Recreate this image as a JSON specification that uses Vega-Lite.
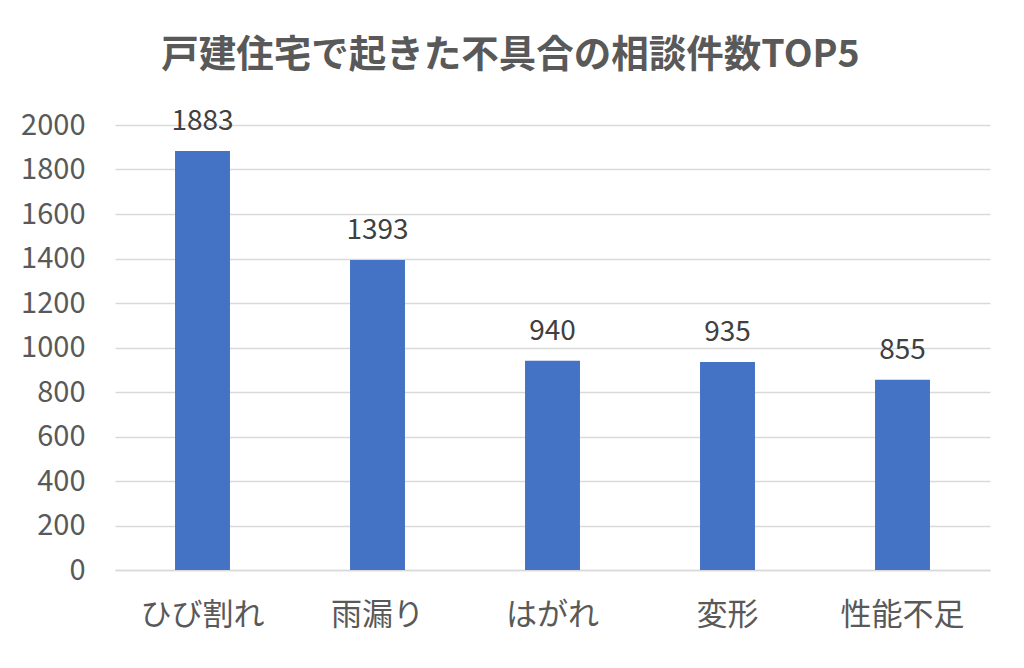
{
  "$schema": "https://vega.github.io/schema/vega-lite/v6.json",
  "autosize": "none",
  "width": 875,
  "height": 445,
  "padding": {"left": 115, "top": 125, "right": 34, "bottom": 98},
  "background": "white",
  "title": {
    "text": "戸建住宅で起きた不具合の相談件数TOP5",
    "font": "Noto Sans CJK JP",
    "fontSize": 37.5,
    "fontWeight": "bold",
    "color": "#595959",
    "anchor": "middle",
    "dx": -42,
    "offset": 34
  },
  "data": {
    "values": [
      {"category": "ひび割れ", "count": 1883},
      {"category": "雨漏り", "count": 1393},
      {"category": "はがれ", "count": 940},
      {"category": "変形", "count": 935},
      {"category": "性能不足", "count": 855}
    ]
  },
  "config": {
    "view": {"stroke": null},
    "font": "Noto Sans CJK JP"
  },
  "encoding": {
    "x": {
      "field": "category",
      "type": "nominal",
      "sort": null,
      "scale": {"paddingInner": 0.686, "paddingOuter": 0.343},
      "axis": {
        "title": null,
        "labelAngle": 0,
        "labelFontSize": 31,
        "labelColor": "#595959",
        "labelPadding": 30,
        "ticks": false,
        "domainColor": "#d9d9d9",
        "domainWidth": 1.5,
        "labelFont": "Noto Sans CJK JP"
      }
    },
    "y": {
      "field": "count",
      "type": "quantitative",
      "scale": {"domain": [0, 2000]},
      "axis": {
        "title": null,
        "format": "d",
        "values": [0, 200, 400, 600, 800, 1000, 1200, 1400, 1600, 1800, 2000],
        "labelFontSize": 29,
        "labelColor": "#595959",
        "labelPadding": 30,
        "ticks": false,
        "domain": false,
        "gridColor": "#d9d9d9",
        "gridWidth": 1.5,
        "labelFont": "Noto Sans CJK JP"
      }
    }
  },
  "layer": [
    {"mark": {"type": "bar", "color": "#4472C4"}},
    {
      "mark": {
        "type": "text",
        "baseline": "bottom",
        "dy": -15,
        "fontSize": 28,
        "color": "#404040",
        "font": "Noto Sans CJK JP"
      },
      "encoding": {"text": {"field": "count", "type": "quantitative"}}
    }
  ]
}
